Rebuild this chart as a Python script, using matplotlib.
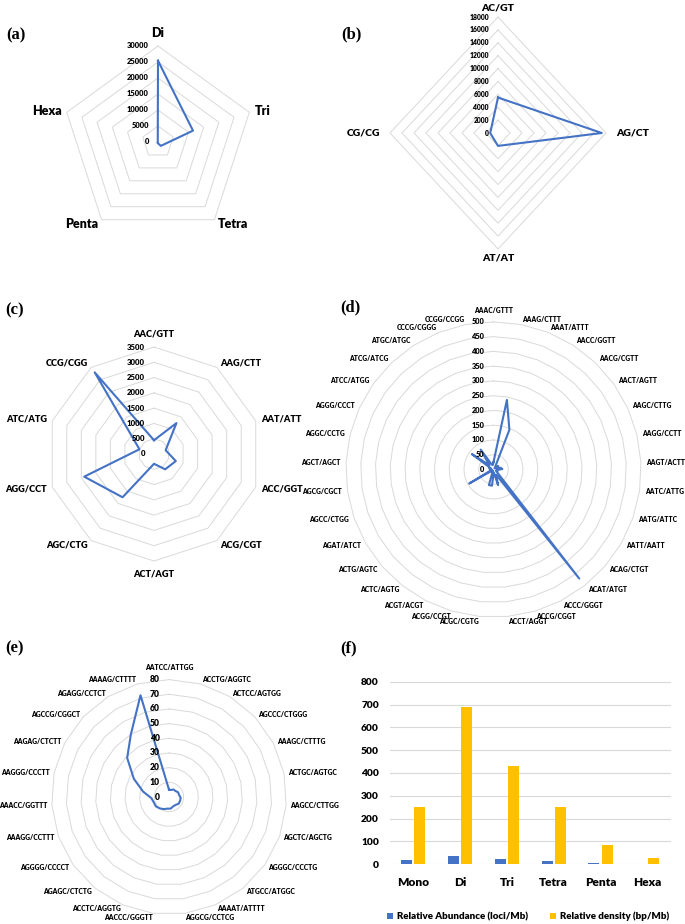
import matplotlib.pyplot as plt
import numpy as np

plt.rcParams['font.family'] = ['Lato', 'DejaVu Sans']

W, H = 685, 924
BLUE = '#4472C4'
GOLD = '#FFC000'
GRID = '#D9D9D9'
WT = 'heavy'

# (a) SSR counts per motif type
a_cats = ['Di', 'Tri', 'Tetra', 'Penta', 'Hexa']
a_vals = [25400, 11500, 1500, 300, 80]

# (b) di-nucleotide motifs
b_cats = ['AC/GT', 'AG/CT', 'AT/AT', 'CG/CG']
b_vals = [5500, 17300, 2000, 1300]

# (c) tri-nucleotide motifs
c_cats = ['AAC/GTT', 'AAG/CTT', 'AAT/ATT', 'ACC/GGT', 'ACG/CGT', 'ACT/AGT',
          'AGC/CTG', 'AGG/CCT', 'ATC/ATG', 'CCG/CGG']
c_vals = [450, 1250, 400, 750, 620, 320, 1750, 2400, 500, 3300]

# (d) tetra-nucleotide motifs
d_cats = ['AAAC/GTTT', 'AAAG/CTTT', 'AAAT/ATTT', 'AACC/GGTT', 'AACG/CGTT',
          'AACT/AGTT', 'AAGC/CTTG', 'AAGG/CCTT', 'AAGT/ACTT', 'AATC/ATTG',
          'AATG/ATTC', 'AATT/AATT', 'ACAG/CTGT', 'ACAT/ATGT', 'ACCC/GGGT',
          'ACCG/CGGT', 'ACCT/AGGT', 'ACGC/CGTG', 'ACGG/CCGT', 'ACGT/ACGT',
          'ACTC/AGTG', 'ACTG/AGTC', 'AGAT/ATCT', 'AGCC/CTGG', 'AGCG/CGCT',
          'AGCT/AGCT', 'AGGC/CCTG', 'AGGG/CCCT', 'ATCC/ATGG', 'ATCG/ATCG',
          'ATGC/ATGC', 'CCCG/CGGG', 'CCGG/CCGG']
d_vals = [25, 240, 145, 10, 5, 20, 10, 25, 30, 10, 15, 10, 20, 470, 20,
          55, 10, 55, 55, 5, 10, 5, 95, 10, 5, 10, 15, 10, 90, 20, 80, 20, 15]

# (e) penta-nucleotide motifs
e_cats = ['AATCC/ATTGG', 'ACCTG/AGGTC', 'ACTCC/AGTGG', 'AGCCC/CTGGG',
          'AAAGC/CTTTG', 'ACTGC/AGTGC', 'AAGCC/CTTGG', 'AGCTC/AGCTG',
          'AGGGC/CCCTG', 'ATGCC/ATGGC', 'AAAAT/ATTTT', 'AGGCG/CCTCG',
          'AACCC/GGGTT', 'ACCTC/AGGTG', 'AGAGC/CTCTG', 'AGGGG/CCCCT',
          'AAAGG/CCTTT', 'AAACC/GGTTT', 'AAGGG/CCCTT', 'AAGAG/CTCTT',
          'AGCCG/CGGCT', 'AGAGG/CCTCT', 'AAAAG/CTTTT']
e_vals = [5, 5, 6, 6, 7, 7, 8, 8, 8, 7, 7, 8, 8, 9, 10, 11, 11, 12, 18, 27,
          39, 50, 72]

# (f) relative abundance / density
f_cats = ['Mono', 'Di', 'Tri', 'Tetra', 'Penta', 'Hexa']
f_abund = [18, 35, 25, 14, 4, 1.5]
f_dens = [252, 688, 431, 251, 86, 26]

fig = plt.figure(figsize=(W / 100, H / 100), dpi=100)


def radar(cx, cy, rh, rv, cats, vals, rmax, step, cat_fs, tick_fs,
          pad=4, top_pad=6):
    """Excel style radar chart, centre and radii given in pixels."""
    ax = fig.add_axes([(cx - rh) / W, 1 - (cy + rv) / H, 2 * rh / W, 2 * rv / H],
                      projection='polar')
    ax.set_theta_zero_location('N')
    ax.set_theta_direction(-1)
    ax.set_ylim(0, rmax)
    ax.set_aspect('auto')
    ax.set_axis_off()
    n = len(cats)
    theta = np.linspace(0, 2 * np.pi, n, endpoint=False)
    ring = np.append(theta, theta[0])
    for lev in np.arange(step, rmax + step / 2, step):
        ax.plot(ring, np.full(n + 1, lev), color=GRID, lw=0.7, zorder=1,
                clip_on=False)
    ax.plot(ring, np.append(vals, vals[0]), color=BLUE, lw=1.5, zorder=3,
            clip_on=False)
    # value labels on the upward axis
    for lev in np.arange(0, rmax + step / 2, step):
        ax.annotate(str(int(lev)), xy=(0, lev), xytext=(-6.5, 0),
                    textcoords='offset points', ha='right', va='center',
                    fontsize=tick_fs, fontweight=WT, zorder=4)
    # category labels round the outside
    for t, lab in zip(theta, cats):
        s, c = np.sin(t), np.cos(t)
        ha = 'center' if abs(s) < 0.05 else ('left' if s > 0 else 'right')
        if c > 0.999:
            va, p = 'bottom', top_pad
        elif c < -0.999:
            va, p = 'top', top_pad
        else:
            va, p = 'center', pad
        ax.annotate(lab, xy=(t, rmax), xytext=(p * s, p * c),
                    textcoords='offset points', ha=ha, va=va,
                    fontsize=cat_fs, fontweight=WT)
    return ax


radar(158, 142, 96, 96, a_cats, a_vals, 30000, 5000, 9, 5.4, top_pad=5)
radar(498, 133, 108, 116, b_cats, b_vals, 18000, 2000, 7.5, 4.9, pad=7,
      top_pad=3.5)
radar(154, 454, 107, 107, c_cats, c_vals, 3500, 500, 6.6, 5.6)
radar(493.5, 469.5, 147.6, 147.6, d_cats, d_vals, 500, 50, 4.8, 5.3, pad=3.8)
radar(169, 797, 117.4, 117.4, e_cats, e_vals, 80, 10, 4.9, 6.2, pad=3)

# (f) bar chart
axf = fig.add_axes([390 / W, 1 - 864.3 / H, 280.7 / W, 182.6 / H])
x = np.arange(len(f_cats))
bw = 0.235
axf.bar(x - 0.14, f_abund, bw, color=BLUE, label='Relative Abundance (loci/Mb)')
axf.bar(x + 0.14, f_dens, bw, color=GOLD, label='Relative density (bp/Mb)')
axf.set_xlim(-0.5, len(f_cats) - 0.5)
axf.set_ylim(0, 800)
axf.set_yticks(np.arange(0, 801, 100))
axf.set_xticks(x)
axf.set_xticklabels(f_cats, fontsize=8.6, fontweight=WT)
axf.tick_params(axis='y', labelsize=7.3, length=0, pad=8)
axf.tick_params(axis='x', length=0, pad=9)
for lab in axf.get_yticklabels():
    lab.set_fontweight(WT)
axf.grid(axis='y', color=GRID, lw=0.8)
axf.set_axisbelow(True)
for sp in axf.spines.values():
    sp.set_visible(False)
fig.legend(loc='center', bbox_to_anchor=(528 / W, 1 - 916.7 / H), ncol=2,
           frameon=False, prop={'size': 7, 'weight': WT},
           handlelength=0.7, handleheight=0.7, handletextpad=0.4,
           columnspacing=2.2)

# panel letters
for lab, px, py in [('(a)', 6, 35), ('(b)', 341, 34), ('(c)', 5, 310),
                    ('(d)', 340, 307), ('(e)', 5, 648), ('(f)', 340, 648)]:
    fig.text(px / W, 1 - py / H, lab, family='Liberation Serif',
             fontweight='bold', fontsize=12, ha='left', va='center')

fig.savefig('out.png', dpi=100)
